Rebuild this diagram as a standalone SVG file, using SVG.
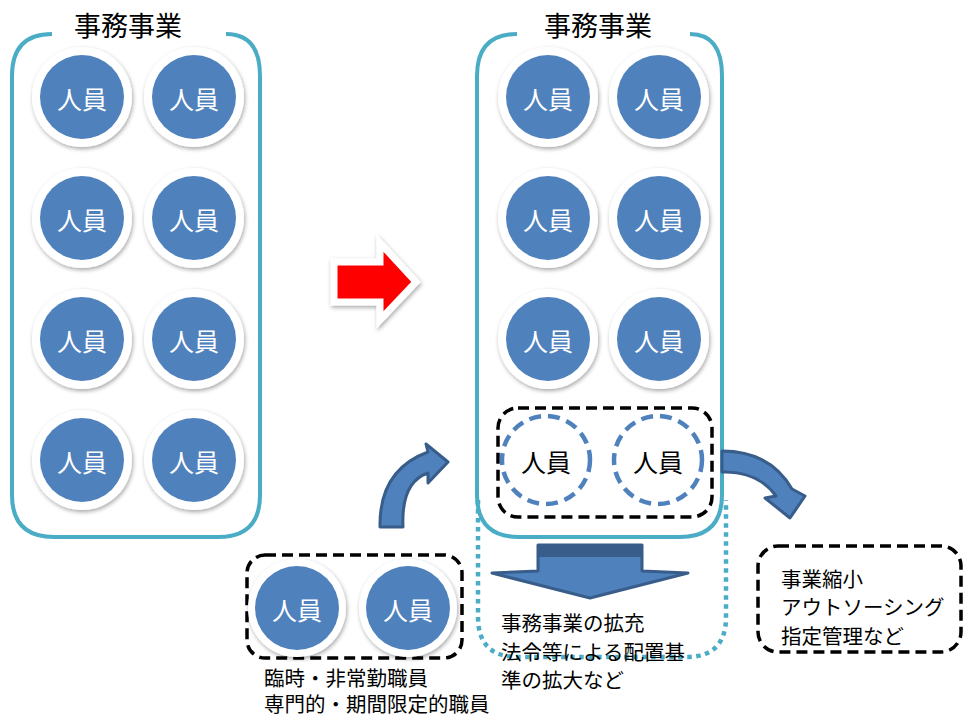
<svg xmlns="http://www.w3.org/2000/svg" width="963" height="718" viewBox="0 0 963 718">
<defs>
<filter id="sh" x="-30%" y="-30%" width="160%" height="160%">
<feDropShadow dx="1" dy="2" stdDeviation="2" flood-color="#000" flood-opacity="0.35"/>
</filter>
<style>
.ring{fill:#fff;filter:url(#sh)}
.blue{fill:#4F81BD}
.pt{font-family:"Noto Sans CJK JP","Noto Sans CJK SC",sans-serif;font-size:25px;fill:#fff;text-anchor:middle;dominant-baseline:central}
.ptd{font-family:"Noto Sans CJK JP","Noto Sans CJK SC",sans-serif;font-size:25px;fill:#000;text-anchor:middle;dominant-baseline:central}
.title{font-family:"Noto Sans CJK JP","Noto Sans CJK SC",sans-serif;font-size:27px;fill:#000;text-anchor:middle}
.lbl{font-family:"Noto Sans CJK JP","Noto Sans CJK SC",sans-serif;font-size:20.5px;fill:#000}
.cont{fill:none;stroke:#4BACC6;stroke-width:4}
.dot{fill:none;stroke:#4BACC6;stroke-width:4.5;stroke-dasharray:4.5 4.5}
.dash{fill:none;stroke:#000;stroke-width:3.5;stroke-dasharray:11 6}
.dcirc{fill:#fff;stroke:#4F81BD;stroke-width:4.5;stroke-dasharray:12 7}
.barr{fill:#4F81BD;stroke:#385D8A;stroke-width:3;stroke-linejoin:round}
</style>
</defs>
<rect width="963" height="718" fill="#fff"/>

<g id="left-container">
<path class="cont" d="M226,34 Q260,34 260,76 L260,495 Q260,537 218,537 L54,537 Q12,537 12,495 L12,76 Q12,34 52,34"/>
<text class="title" x="128" y="36">事務事業</text>
</g>

<g id="right-dotted">
<path class="dot" d="M478,500 L478,617 Q478,657 518,657 L686,657 Q726,657 726,617 L726,500"/>
</g>

<g id="right-container">
<path class="cont" d="M690,34 Q722,34 722,76 L722,495 Q722,537 680,537 L519,537 Q477,537 477,495 L477,76 Q477,34 517,34" fill="#fff"/>
<text class="title" x="598" y="36">事務事業</text>
</g>

<g id="l1"><circle class="ring" cx="82" cy="97" r="50"/><circle class="blue" cx="82" cy="97" r="42"/><text class="pt" x="82" y="98">人員</text></g>
<g id="l2"><circle class="ring" cx="194" cy="97" r="50"/><circle class="blue" cx="194" cy="97" r="42"/><text class="pt" x="194" y="98">人員</text></g>
<g id="l3"><circle class="ring" cx="82" cy="218" r="50"/><circle class="blue" cx="82" cy="218" r="42"/><text class="pt" x="82" y="219">人員</text></g>
<g id="l4"><circle class="ring" cx="194" cy="218" r="50"/><circle class="blue" cx="194" cy="218" r="42"/><text class="pt" x="194" y="219">人員</text></g>
<g id="l5"><circle class="ring" cx="82" cy="339" r="50"/><circle class="blue" cx="82" cy="339" r="42"/><text class="pt" x="82" y="340">人員</text></g>
<g id="l6"><circle class="ring" cx="194" cy="339" r="50"/><circle class="blue" cx="194" cy="339" r="42"/><text class="pt" x="194" y="340">人員</text></g>
<g id="l7"><circle class="ring" cx="82" cy="460" r="50"/><circle class="blue" cx="82" cy="460" r="42"/><text class="pt" x="82" y="461">人員</text></g>
<g id="l8"><circle class="ring" cx="194" cy="460" r="50"/><circle class="blue" cx="194" cy="460" r="42"/><text class="pt" x="194" y="461">人員</text></g>

<g id="r1"><circle class="ring" cx="548" cy="97" r="50"/><circle class="blue" cx="548" cy="97" r="42"/><text class="pt" x="548" y="98">人員</text></g>
<g id="r2"><circle class="ring" cx="659" cy="97" r="50"/><circle class="blue" cx="659" cy="97" r="42"/><text class="pt" x="659" y="98">人員</text></g>
<g id="r3"><circle class="ring" cx="548" cy="218" r="50"/><circle class="blue" cx="548" cy="218" r="42"/><text class="pt" x="548" y="219">人員</text></g>
<g id="r4"><circle class="ring" cx="659" cy="218" r="50"/><circle class="blue" cx="659" cy="218" r="42"/><text class="pt" x="659" y="219">人員</text></g>
<g id="r5"><circle class="ring" cx="548" cy="339" r="50"/><circle class="blue" cx="548" cy="339" r="42"/><text class="pt" x="548" y="340">人員</text></g>
<g id="r6"><circle class="ring" cx="659" cy="339" r="50"/><circle class="blue" cx="659" cy="339" r="42"/><text class="pt" x="659" y="340">人員</text></g>

<g id="reduced-group">
<rect class="dash" x="498" y="408" width="214" height="109" rx="20"/>
<g id="r7"><circle class="dcirc" cx="546" cy="460" r="44"/><text class="ptd" x="546" y="461">人員</text></g>
<g id="r8"><circle class="dcirc" cx="658" cy="460" r="44"/><text class="ptd" x="658" y="461">人員</text></g>
</g>

<g id="temp-group">
<rect class="dash" x="247" y="555" width="215" height="103" rx="18"/>
<g id="t1"><circle class="ring" cx="297" cy="608" r="49"/><circle class="blue" cx="297" cy="608" r="42"/><text class="pt" x="297" y="609">人員</text></g>
<g id="t2"><circle class="ring" cx="408" cy="608" r="49"/><circle class="blue" cx="408" cy="608" r="42"/><text class="pt" x="408" y="609">人員</text></g>
<text class="lbl" x="264" y="686">臨時・非常勤職員</text>
<text class="lbl" x="264" y="712">専門的・期間限定的職員</text>
</g>

<g id="outsource-box">
<rect class="dash" x="758" y="546" width="203" height="106" rx="20"/>
<text class="lbl" x="781" y="587">事業縮小</text>
<text class="lbl" x="781" y="615">アウトソーシング</text>
<text class="lbl" x="781" y="644">指定管理など</text>
</g>

<g id="expand-label">
<text class="lbl" x="501" y="631">事務事業の拡充</text>
<text class="lbl" x="501" y="660">法令等による配置基</text>
<text class="lbl" x="501" y="688">準の拡大など</text>
</g>

<g id="connectors">
<path d="M334,262 L380,262 L380,243 L416,282 L380,320 L380,302 L334,302 Z" fill="#FF0000" stroke="#fff" stroke-width="7" stroke-linejoin="miter" filter="url(#sh)"/>
<path class="barr" d="M380,527 Q379,470 428,452 L426,444 L448,462 L428,483 L428,473 Q401,482 403,527 Z"/>
<path class="barr" d="M722,451 Q770,451 792,489 L805,496 L790,518 L765,498 L776,496 Q758,471 722,472 Z"/>
<path class="barr" d="M538,545 L642,545 L642,571 L688,573 L590,598 L492,573 L538,571 Z"/>
<rect x="538" y="545" width="104" height="12" fill="#385D8A"/>
</g>
</svg>
